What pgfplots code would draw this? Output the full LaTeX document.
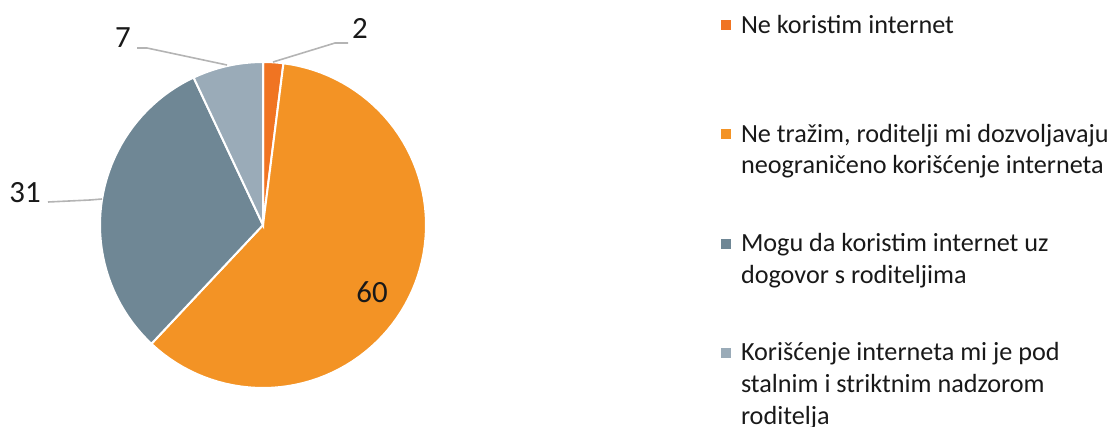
\documentclass[border=0pt]{standalone}
\usepackage{fontspec}
\setmainfont{Carlito}
\usepackage{pgfplots}
\pgfplotsset{compat=1.18}

\definecolor{cNone}{RGB}{240,116,34}
\definecolor{cFree}{RGB}{243,147,37}
\definecolor{cDeal}{RGB}{111,135,149}
\definecolor{cStrict}{RGB}{154,171,184}
\definecolor{leader}{RGB}{180,180,180}

% shares (percent), clockwise from 12 o'clock
\def\vA{2}
\def\vB{60}
\def\vC{31}
\def\vD{7}
\pgfmathsetmacro\aA{90}
\pgfmathsetmacro\aB{\aA-3.6*\vA}
\pgfmathsetmacro\aC{\aB-3.6*\vB}
\pgfmathsetmacro\aD{\aC-3.6*\vC}
\pgfmathsetmacro\aE{\aD-3.6*\vD}

\pgfplotsset{
  slice/.style={fill=#1, draw=white, line width=2bp, data cs=polar,
    legend image code/.code={
      \fill[#1, draw=none] (0bp,37.65bp) rectangle (10bp,47.65bp);
      \path[fill=none, draw=none] (0bp,-47.65bp) rectangle (10bp,-37.65bp);}},
  lead/.style={leader, line width=1.6bp, forget plot},
}

\begin{document}
\begin{tikzpicture}
\useasboundingbox (0,0) rectangle (1119bp,427bp);
\clip (0,0) rectangle (1119bp,427bp);
\begin{axis}[
  x=1bp, y=1bp,
  xmin=-263, xmax=856, ymin=-202, ymax=225,
  anchor=south west, at={(0,0)},
  hide axis, clip=false,
  legend cell align=left,
  legend style={at={(axis cs:458,212)}, anchor=north west,
    draw=none, fill=none, inner sep=0pt, outer sep=0pt,
    row sep=0pt, column sep=10bp,
    nodes={inner sep=0pt, text height=20bp, text depth=89.3bp,
      font=\fontsize{26.3}{31.8}\selectfont, text=black!90}},
]
\addplot[slice=cNone, domain=\aB:\aA, samples=6] {163} -- (axis cs:0,0) -- cycle;
\addlegendentry{Ne koristim internet}
\addplot[slice=cFree, domain=\aC:\aB, samples=80] {163} -- (axis cs:0,0) -- cycle;
\addlegendentry{\begin{tabular}[t]{@{}l@{}}Ne tražim, roditelji mi dozvoljavaju\\neograničeno korišćenje interneta\end{tabular}}
\addplot[slice=cDeal, domain=\aD:\aC, samples=45] {163} -- (axis cs:0,0) -- cycle;
\addlegendentry{\begin{tabular}[t]{@{}l@{}}Mogu da koristim internet uz\\dogovor s roditeljima\end{tabular}}
\addplot[slice=cStrict, domain=\aE:\aD, samples=12] {163} -- (axis cs:0,0) -- cycle;
\addlegendentry{\begin{tabular}[t]{@{}l@{}}Korišćenje interneta mi je pod\\stalnim i striktnim nadzorom\\roditelja\end{tabular}}

% leader lines
\addplot[lead] coordinates {(10,163) (72,182) (85,182)};
\addplot[lead] coordinates {(-36,160) (-116,177) (-126,177)};
\addplot[lead] coordinates {(-161,26) (-173,25) (-215,23)};

% data labels
\begin{scope}[every node/.style={font=\fontsize{31}{36}\selectfont, text=black!90}]
\node at (axis cs:97,197) {2};
\node at (axis cs:-140,187) {7};
\node at (axis cs:-238,32) {31};
\node at (axis cs:109,-67) {60};
\end{scope}
\end{axis}
\end{tikzpicture}
\end{document}
